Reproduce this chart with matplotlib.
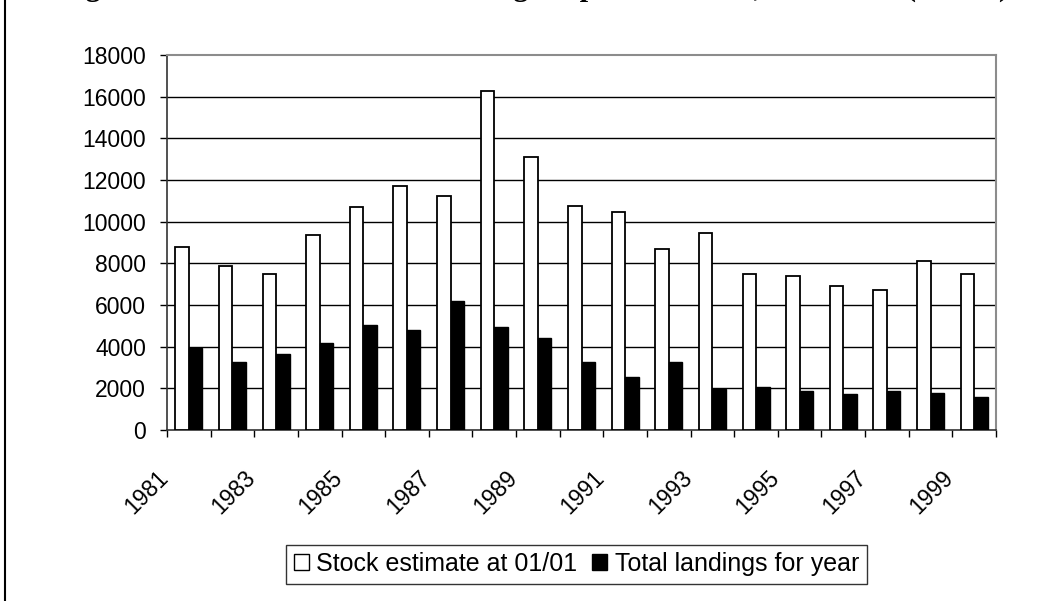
import matplotlib
matplotlib.use('Agg')
import matplotlib.pyplot as plt
import matplotlib.transforms as mtransforms
from matplotlib.patches import Patch
from matplotlib.lines import Line2D
import numpy as np

# data (tonnes)
years = list(range(1981, 2000))
stock_estimate = [8800, 7850, 7500, 9350, 10680, 11700, 11220, 16250, 13100, 10750,
                  10470, 8700, 9450, 7470, 7370, 6900, 6720, 8120, 7470]
total_landings = [3950, 3280, 3670, 4200, 5060, 4800, 6200, 4960, 4420, 3280,
                  2530, 3280, 1970, 2050, 1890, 1720, 1880, 1800, 1600]
tick_labels = [str(y) if y % 2 == 1 else '' for y in years]
y_ticks = list(range(0, 18001, 2000))

plt.rcParams['font.family'] = ['Liberation Sans', 'DejaVu Sans']

fig = plt.figure(figsize=(10.52, 6.01), dpi=100)
fig.set_facecolor('white')
W, H = 1052, 601
ax = fig.add_axes([167 / W, (H - 430) / H, (996 - 167) / W, (430 - 55) / H])

x = np.arange(len(years))
bw = 0.31
ax.bar(x - bw / 2, stock_estimate, width=bw, color='white', edgecolor='black', linewidth=1.3, zorder=3)
ax.bar(x + bw / 2, total_landings, width=bw, color='black', edgecolor='black', linewidth=1.0, zorder=3)

ax.set_xlim(-0.5, len(years) - 0.5)
ax.set_ylim(0, 18000)

# gridlines
ax.set_yticks(y_ticks)
ax.set_yticklabels([str(v) for v in y_ticks], fontsize=16.5)
for v in y_ticks[1:-1]:
    ax.axhline(v, color='black', linewidth=1.0, zorder=1)
ax.tick_params(axis='y', direction='out', length=5, width=1, pad=10, colors='black')

# category ticks at the boundaries, labels at the centres
ax.set_xticks(np.arange(-0.5, len(years), 1.0), minor=True)
ax.set_xticks(x)
ax.set_xticklabels(tick_labels, rotation=45, ha='right', va='top', fontsize=16.5)
ax.tick_params(axis='x', which='minor', direction='out', length=5, width=1)
ax.tick_params(axis='x', which='major', length=0, pad=26)
shift = mtransforms.ScaledTranslation(-16 / 100, 0, fig.dpi_scale_trans)
for lab in ax.get_xticklabels():
    lab.set_transform(lab.get_transform() + shift)

for side in ['top', 'right']:
    ax.spines[side].set_color('#8c8c8c')
    ax.spines[side].set_linewidth(1.5)
for side in ['left', 'bottom']:
    ax.spines[side].set_color('#333333')
    ax.spines[side].set_linewidth(1.2)

handles = [Patch(facecolor='white', edgecolor='black', linewidth=1.0),
           Patch(facecolor='black', edgecolor='black', linewidth=1.0)]
leg = fig.legend(handles, ['Stock estimate at 01/01', 'Total landings for year'],
                 loc='center', bbox_to_anchor=(0.548, 1 - 564 / H), ncol=2, fontsize=18,
                 frameon=True, fancybox=False, edgecolor='black', handlelength=0.6,
                 handleheight=0.6, handletextpad=0.3, columnspacing=0.6,
                 borderpad=0.3, borderaxespad=0)
leg.get_frame().set_linewidth(1.0)

# title, mostly cut off by the top of the page (only descenders show)
fig.text(59 / W, 1 + 4 / H, 'Figure 8: Stock estimate and landings of plaice in VIIa, 1981-1999 (tonnes)',
         family=['Liberation Serif', 'DejaVu Serif'], fontweight='bold', fontsize=21.5, va='baseline', ha='left')

# left page border
fig.add_artist(Line2D([5 / W, 5 / W], [0, 1], transform=fig.transFigure, color='black', linewidth=1.5))

plt.savefig('out.png', dpi=100)
